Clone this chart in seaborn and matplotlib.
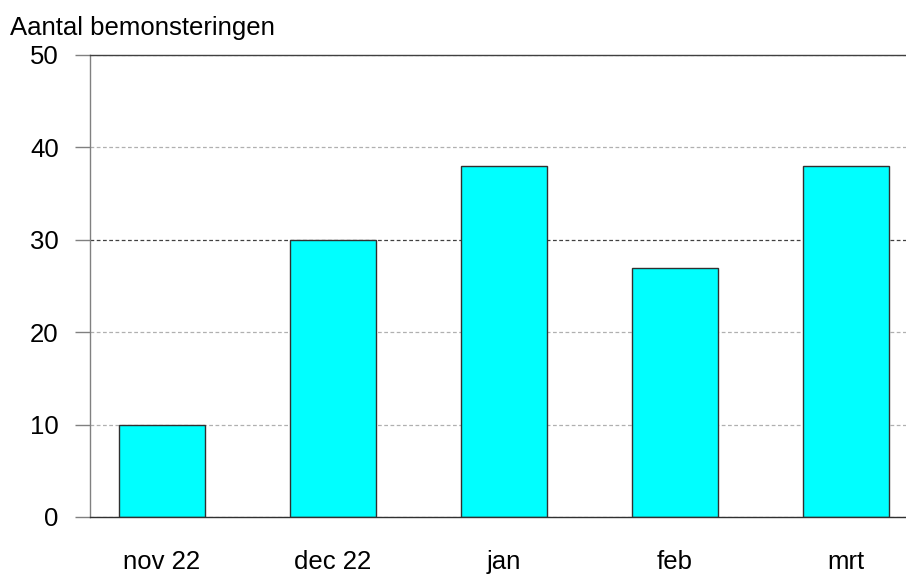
import matplotlib
matplotlib.use("Agg")
import matplotlib.pyplot as plt
import seaborn as sns
import pandas as pd

categories = ["nov 22", "dec 22", "jan", "feb", "mrt"]
values = [10, 30, 38, 27, 38]
yticks = [0, 10, 20, 30, 40, 50]
ylabel = "Aantal bemonsteringen"

sns.set_theme(style="white")
plt.rcParams['font.family'] = ['Liberation Sans', 'DejaVu Sans']

df = pd.DataFrame({"maand": categories, "aantal": values})

fig = plt.figure(figsize=(9.06, 5.75), dpi=100)
ax = fig.add_axes([90/906, 58/575, 816/906, 462/575])

sns.barplot(data=df, x="maand", y="aantal", color="#00FFFF", saturation=1,
            width=0.5, edgecolor="#303030", linewidth=1.0, ax=ax)

ax.set_xlim(-0.42, 4.35)
ax.set_ylim(0, 50)
ax.set_yticks(yticks)
ax.set_xlabel("")
ax.set_ylabel("")

ax.yaxis.grid(True, linestyle=(0, (3, 2)), linewidth=0.9, color="#b0b0b0")
ax.xaxis.grid(False)
ax.set_axisbelow(True)
for t, gl in zip(yticks, ax.yaxis.get_gridlines()):
    if t == 30:
        gl.set_color("#404040")

ax.tick_params(axis="y", which="major", length=11, width=1.0, color="#808080",
               pad=11.5, labelsize=18.5, left=True)
ax.tick_params(axis="x", which="major", length=0, pad=24, labelsize=18.5)
for lbl in ax.get_yticklabels() + ax.get_xticklabels():
    lbl.set_color("black")

ax.spines["right"].set_visible(False)
ax.spines["left"].set_color("#808080")
ax.spines["top"].set_color("#404040")
ax.spines["bottom"].set_color("#303030")
for s in ax.spines.values():
    s.set_linewidth(1.0)

fig.text(10/906, 1 - 28/575, ylabel, ha="left", va="center", fontsize=18.5, color="black")

fig.savefig("out.png", dpi=100)
